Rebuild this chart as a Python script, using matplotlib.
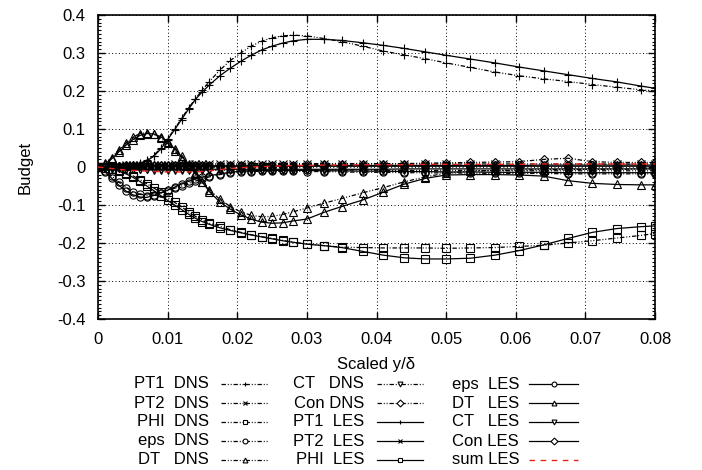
import matplotlib
matplotlib.use("Agg")
import matplotlib.pyplot as plt
from matplotlib.lines import Line2D
import numpy as np

plt.rcParams['font.family'] = ['Liberation Sans', 'DejaVu Sans']

# ---------------- data ----------------
x = [0, 0.001, 0.002, 0.003, 0.004, 0.005, 0.006, 0.007, 0.008, 0.009,
     0.010, 0.011, 0.012, 0.013, 0.014, 0.015, 0.016, 0.0175, 0.019, 0.0205,
     0.022, 0.0235, 0.025, 0.0265, 0.028, 0.030, 0.0325, 0.035, 0.038, 0.041,
     0.044, 0.047, 0.050, 0.0535, 0.057, 0.0605, 0.064, 0.0675, 0.071, 0.0745,
     0.078, 0.080]

pt1_dns = [0, 0.001, 0.002, 0.003, 0.004, 0.006, 0.010, 0.018, 0.030, 0.050,
           0.075, 0.100, 0.128, 0.155, 0.180, 0.203, 0.225, 0.255, 0.280, 0.300,
           0.318, 0.331, 0.340, 0.345, 0.347, 0.345, 0.338, 0.330, 0.318, 0.305,
           0.295, 0.285, 0.274, 0.262, 0.250, 0.240, 0.232, 0.225, 0.217, 0.210,
           0.203, 0.200]
pt2_dns = [0, 0.001, 0.002, 0.003, 0.004, 0.004, 0.005, 0.005, 0.006, 0.006,
           0.006, 0.007, 0.007, 0.007, 0.007, 0.008, 0.008, 0.008, 0.008, 0.008,
           0.009, 0.009, 0.009, 0.009, 0.009, 0.009, 0.009, 0.009, 0.009, 0.009,
           0.008, 0.008, 0.008, 0.008, 0.008, 0.008, 0.008, 0.008, 0.008, 0.008,
           0.008, 0.008]
phi_dns = [0, -0.002, -0.005, -0.009, -0.015, -0.023, -0.033, -0.044, -0.055, -0.067,
           -0.080, -0.093, -0.105, -0.118, -0.130, -0.140, -0.148, -0.156, -0.165, -0.172,
           -0.178, -0.183, -0.188, -0.193, -0.198, -0.203, -0.207, -0.211, -0.212, -0.213,
           -0.213, -0.213, -0.214, -0.213, -0.212, -0.209, -0.206, -0.200, -0.194, -0.187,
           -0.180, -0.175]
eps_dns = [0, -0.010, -0.024, -0.040, -0.054, -0.065, -0.072, -0.075, -0.073, -0.068,
           -0.062, -0.056, -0.050, -0.043, -0.037, -0.031, -0.026, -0.020, -0.016, -0.013,
           -0.012, -0.011, -0.011, -0.011, -0.011, -0.012, -0.012, -0.013, -0.014, -0.014,
           -0.015, -0.015, -0.016, -0.016, -0.017, -0.017, -0.017, -0.018, -0.018, -0.018,
           -0.018, -0.018]
dt_dns = [0, 0.010, 0.025, 0.045, 0.062, 0.078, 0.088, 0.090, 0.086, 0.076,
          0.062, 0.043, 0.022, 0.003, -0.018, -0.040, -0.060, -0.085, -0.104, -0.118,
          -0.127, -0.131, -0.130, -0.125, -0.118, -0.108, -0.095, -0.083, -0.068, -0.054,
          -0.039, -0.026, -0.016, -0.011, -0.009, -0.008, -0.007, -0.007, -0.006, -0.006,
          -0.005, -0.005]
ct_dns = [0, -0.001, -0.002, -0.003, -0.004, -0.005, -0.006, -0.006, -0.007, -0.007,
          -0.007, -0.007, -0.008, -0.008, -0.008, -0.008, -0.008, -0.008, -0.008, -0.008,
          -0.008, -0.008, -0.008, -0.008, -0.008, -0.008, -0.008, -0.008, -0.008, -0.009,
          -0.009, -0.009, -0.009, -0.009, -0.010, -0.010, -0.010, -0.010, -0.010, -0.010,
          -0.010, -0.010]
con_dns = [0, 0.001, 0.002, 0.003, 0.004, 0.004, 0.005, 0.005, 0.005, 0.005,
           0.005, 0.005, 0.005, 0.005, 0.005, 0.005, 0.005, 0.005, 0.005, 0.006,
           0.006, 0.006, 0.006, 0.006, 0.006, 0.007, 0.007, 0.007, 0.008, 0.008,
           0.009, 0.010, 0.011, 0.012, 0.013, 0.014, 0.020, 0.023, 0.014, 0.012,
           0.012, 0.012]

pt1_les = [0, 0.001, 0.001, 0.002, 0.003, 0.005, 0.009, 0.016, 0.028, 0.047,
           0.072, 0.098, 0.125, 0.152, 0.178, 0.198, 0.216, 0.240, 0.260, 0.278,
           0.294, 0.308, 0.318, 0.326, 0.332, 0.336, 0.336, 0.333, 0.327, 0.320,
           0.312, 0.303, 0.294, 0.284, 0.274, 0.263, 0.253, 0.243, 0.233, 0.224,
           0.213, 0.207]
pt2_les = [0, 0.000, 0.001, 0.001, 0.002, 0.002, 0.002, 0.002, 0.002, 0.002,
           0.002, 0.002, 0.002, 0.002, 0.002, 0.002, 0.002, 0.002, 0.002, 0.002,
           0.002, 0.002, 0.002, 0.002, 0.002, 0.002, 0.002, 0.002, 0.002, 0.002,
           0.002, 0.002, 0.002, 0.002, 0.002, 0.002, 0.002, 0.002, 0.002, 0.002,
           0.002, 0.002]
phi_les = [0, -0.002, -0.006, -0.011, -0.018, -0.027, -0.038, -0.050, -0.062, -0.075,
           -0.088, -0.100, -0.112, -0.124, -0.135, -0.144, -0.151, -0.160, -0.167, -0.173,
           -0.179, -0.184, -0.189, -0.194, -0.198, -0.203, -0.207, -0.212, -0.222, -0.232,
           -0.239, -0.242, -0.242, -0.240, -0.232, -0.220, -0.205, -0.188, -0.172, -0.162,
           -0.157, -0.155]
eps_les = [0, -0.012, -0.030, -0.048, -0.063, -0.073, -0.079, -0.080, -0.075, -0.068,
           -0.061, -0.053, -0.045, -0.038, -0.032, -0.027, -0.023, -0.018, -0.014, -0.011,
           -0.010, -0.009, -0.009, -0.009, -0.009, -0.009, -0.010, -0.010, -0.011, -0.011,
           -0.012, -0.012, -0.013, -0.013, -0.014, -0.014, -0.014, -0.015, -0.015, -0.015,
           -0.015, -0.015]
dt_les = [0, 0.008, 0.022, 0.040, 0.057, 0.072, 0.083, 0.088, 0.087, 0.080,
          0.066, 0.048, 0.028, 0.008, -0.015, -0.040, -0.065, -0.092, -0.111, -0.126,
          -0.137, -0.145, -0.148, -0.147, -0.142, -0.137, -0.119, -0.104, -0.087, -0.066,
          -0.045, -0.030, -0.021, -0.020, -0.020, -0.021, -0.024, -0.036, -0.043, -0.046,
          -0.047, -0.047]
ct_les = [0, -0.001, -0.002, -0.003, -0.004, -0.005, -0.005, -0.006, -0.006, -0.006,
          -0.006, -0.006, -0.006, -0.006, -0.006, -0.006, -0.006, -0.006, -0.006, -0.006,
          -0.006, -0.006, -0.006, -0.006, -0.006, -0.006, -0.006, -0.006, -0.006, -0.006,
          -0.005, -0.005, -0.005, -0.005, -0.005, -0.005, -0.005, -0.005, -0.005, -0.005,
          -0.005, -0.005]
con_les = [0, 0.001, 0.001, 0.002, 0.002, 0.003, 0.003, 0.003, 0.003, 0.003,
           0.003, 0.003, 0.003, 0.003, 0.003, 0.003, 0.003, 0.003, 0.003, 0.003,
           0.003, 0.003, 0.003, 0.003, 0.003, 0.003, 0.004, 0.004, 0.004, 0.004,
           0.004, 0.004, 0.004, 0.004, 0.004, 0.004, 0.005, 0.005, 0.005, 0.005,
           0.005, 0.005]
sum_les = [0, -0.002, -0.004, -0.006, -0.008, -0.009, -0.010, -0.011, -0.012, -0.012,
           -0.013, -0.013, -0.013, -0.013, -0.013, -0.012, -0.010, -0.007, -0.004, -0.002,
           0.000, 0.001, 0.002, 0.003, 0.004, 0.004, 0.005, 0.005, 0.006, 0.006,
           0.006, 0.007, 0.007, 0.007, 0.007, 0.007, 0.008, 0.008, 0.008, 0.008,
           0.008, 0.008]

labels = ["PT1  DNS", "PT2  DNS", "PHI  DNS", "eps  DNS", "DT   DNS",
          "CT   DNS", "Con DNS", "PT1  LES", "PT2  LES", "PHI  LES",
          "eps  LES", "DT   LES", "CT   LES", "Con LES", "sum LES"]
series = [pt1_dns, pt2_dns, phi_dns, eps_dns, dt_dns, ct_dns, con_dns,
          pt1_les, pt2_les, phi_les, eps_les, dt_les, ct_les, con_les, sum_les]
markers = ['+', 'x', 's', 'o', '^', 'v', 'D', '+', 'x', 's', 'o', '^', 'v', 'D', None]

xticks = [0, 0.01, 0.02, 0.03, 0.04, 0.05, 0.06, 0.07, 0.08]
xticklabels = ["0", "0.01", "0.02", "0.03", "0.04", "0.05", "0.06", "0.07", "0.08"]
yticks = [-0.4, -0.3, -0.2, -0.1, 0, 0.1, 0.2, 0.3, 0.4]
yticklabels = ["-0.4", "-0.3", "-0.2", "-0.1", "0", "0.1", "0.2", "0.3", "0.4"]

# ---------------- styles ----------------
DNS_LS = (0, (3.5, 1.5, 0.8, 1.5, 0.8, 1.5))
styles = []
for i in range(15):
    if i < 7:
        styles.append(dict(color='black', ls=DNS_LS, lw=0.9, z=3))
    elif i < 14:
        styles.append(dict(color='black', ls='-', lw=0.9, z=3))
    else:
        styles.append(dict(color='#e8231c', ls=(0, (4, 4)), lw=1.0, z=5))

W, H = 702, 470
fig = plt.figure(figsize=(W / 100, H / 100), dpi=100)
L, R, T, B = 98, 655, 15, 319
ax = fig.add_axes([L / W, 1 - B / H, (R - L) / W, (B - T) / H])

for i, (y, lab) in enumerate(zip(series, labels)):
    st = styles[i]
    m = markers[i]
    ms = 6.0 if m in ('+', 'x') else 5.2
    if m == 'D':
        ms = 4.3
    ax.plot(x, y, color=st['color'], linestyle=st['ls'], linewidth=st['lw'],
            marker=m, markersize=ms, markerfacecolor='none',
            markeredgecolor=st['color'], markeredgewidth=0.8, zorder=st['z'])

ax.set_xlim(0, 0.08)
ax.set_ylim(-0.4, 0.4)
ax.set_xticks(xticks)
ax.set_xticklabels(xticklabels)
ax.set_yticks(yticks)
ax.set_yticklabels(yticklabels)
ax.set_yticks(np.arange(-0.4, 0.4001, 0.01), minor=True)
ax.tick_params(axis='both', which='major', direction='in', length=5, width=1,
               top=True, right=True, labelsize=12, pad=9)
ax.tick_params(axis='y', which='minor', direction='in', length=2.5, width=0.8,
               left=True, right=True)
ax.tick_params(axis='x', which='minor', bottom=False, top=False)
ax.grid(True, which='major', color='black', linestyle=(0, (1, 2.5)), linewidth=0.7, zorder=1)
ax.set_axisbelow(True)
for s in ax.spines.values():
    s.set_linewidth(1.2)

ax.set_xlabel("Scaled y/δ", fontsize=12)
ax.xaxis.set_label_coords(0.5, (B - 364) / (B - T))
ax.xaxis.label.set_va('center')
ax.set_ylabel("Budget", fontsize=12)
ax.yaxis.set_label_coords((25 - L) / (R - L), 0.5)
ax.yaxis.label.set_va('center')

# ---------------- legend (gnuplot style: text right, sample right of it) ----------------
rows_px = [384, 403, 422, 441, 460]
text_right = [209, 364, 519]
samp = [(221, 268), (377, 423), (529, 578)]
for i, lab in enumerate(labels):
    c, r = divmod(i, 5)
    ypx = rows_px[r]
    yf = 1 - ypx / H
    fig.text(text_right[c] / W, yf, lab, ha='right', va='center', fontsize=12)
    st = styles[i]
    x0, x1 = samp[c]
    fig.add_artist(Line2D([x0 / W, x1 / W], [yf, yf], transform=fig.transFigure,
                          color=st['color'], linestyle=st['ls'], linewidth=st['lw']))
    if markers[i] is not None:
        fig.add_artist(Line2D([(x0 + x1) / 2 / W], [yf], transform=fig.transFigure,
                              marker=markers[i], markersize=3.5, markerfacecolor='white',
                              markeredgecolor='black', markeredgewidth=0.8, linestyle='none'))

fig.savefig("out.png", dpi=100)
